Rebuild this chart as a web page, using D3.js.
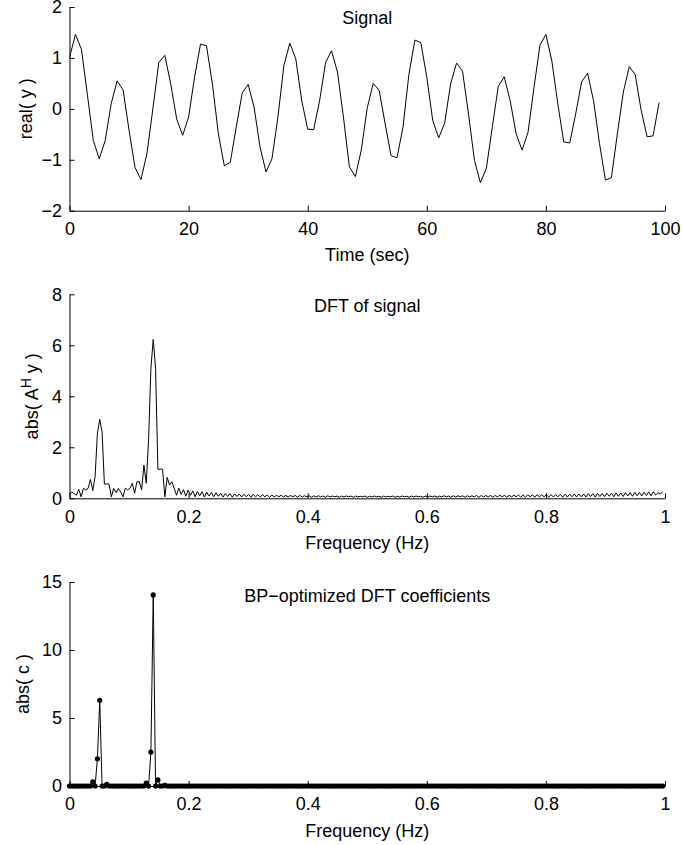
<!DOCTYPE html>
<html>
<head>
    <meta charset="UTF-8">
    <title>Signal / DFT / BP coefficients</title>
    <style>
        body {
            margin: 0;
            background-color: #ffffff;
        }
        svg text {
            font-family: "Liberation Sans", Arial, Helvetica, sans-serif;
            font-size: 18px;
            fill: #000;
        }
    </style>
    <script src="https://cdn.jsdelivr.net/npm/d3@7"></script>
</head>
<body>
    <script>
        // values

        // top panel: real part of the signal, one sample per second
        const timeSec = d3.range(0, 100);
        const signalReal = [
            1.01, 1.46, 1.17, 0.28, -0.62, -0.98, -0.62, 0.10, 0.55, 0.37,
            -0.42, -1.15, -1.39, -0.88, 0.00, 0.91, 1.05, 0.49, -0.20, -0.52,
            -0.16, 0.62, 1.27, 1.24, 0.49, -0.49, -1.12, -1.05, -0.36, 0.31,
            0.48, 0.03, -0.75, -1.24, -0.98, -0.16, 0.85, 1.29, 0.98, 0.16,
            -0.40, -0.41, 0.16, 0.91, 1.14, 0.72, -0.16, -1.14, -1.33, -0.81,
            0.02, 0.50, 0.36, -0.29, -0.92, -0.96, -0.36, 0.68, 1.35, 1.30,
            0.62, -0.23, -0.57, -0.28, 0.49, 0.90, 0.74, -0.10, -1.01, -1.45,
            -1.17, -0.36, 0.44, 0.63, 0.16, -0.49, -0.81, -0.46, 0.42, 1.25,
            1.46, 0.94, 0.10, -0.65, -0.67, -0.10, 0.53, 0.70, 0.16, -0.68,
            -1.40, -1.35, -0.49, 0.33, 0.83, 0.67, -0.03, -0.55, -0.53, 0.12
        ];

        // frequency grid of the dictionary (256 bins over 0..1 Hz)
        const freqHz = d3.range(0, 256).map(k => k / 256);

        // middle panel: abs(A^H y)
        const dftAbs = [
            0.19, 0.24, 0.19, 0.12, 0.35, 0.06, 0.39, 0.33, 0.39, 0.74, 0.30, 0.85, 2.55, 3.10, 2.60, 0.56,
            0.56, 0.56, 0.06, 0.39, 0.22, 0.39, 0.25, 0.06, 0.40, 0.33, 0.39, 0.59, 0.20, 0.65, 0.65, 0.33,
            1.30, 0.59, 2.28, 5.10, 6.23, 5.10, 1.14, 1.14, 1.14, 0.06, 0.82, 0.52, 0.65, 0.39, 0.12, 0.40,
            0.15, 0.34, 0.08, 0.32, 0.12, 0.29, 0.06, 0.27, 0.10, 0.26, 0.05, 0.24, 0.09, 0.23, 0.06, 0.22,
            0.08, 0.20, 0.05, 0.19, 0.07, 0.18, 0.04, 0.17, 0.07, 0.17, 0.05, 0.16, 0.06, 0.15, 0.04, 0.15,
            0.06, 0.14, 0.05, 0.14, 0.06, 0.13, 0.04, 0.13, 0.05, 0.12, 0.06, 0.12, 0.04, 0.12, 0.05, 0.11,
            0.06, 0.11, 0.04, 0.11, 0.05, 0.10, 0.06, 0.10, 0.04, 0.10, 0.05, 0.10, 0.06, 0.09, 0.04, 0.10,
            0.05, 0.09, 0.06, 0.09, 0.04, 0.09, 0.05, 0.09, 0.06, 0.09, 0.04, 0.09, 0.05, 0.08, 0.06, 0.09,
            0.04, 0.08, 0.05, 0.09, 0.06, 0.08, 0.04, 0.09, 0.05, 0.08, 0.06, 0.09, 0.04, 0.08, 0.05, 0.09,
            0.06, 0.08, 0.04, 0.09, 0.05, 0.09, 0.06, 0.08, 0.04, 0.09, 0.05, 0.09, 0.06, 0.09, 0.04, 0.09,
            0.05, 0.10, 0.06, 0.09, 0.04, 0.10, 0.05, 0.10, 0.06, 0.10, 0.04, 0.10, 0.05, 0.10, 0.06, 0.11,
            0.04, 0.11, 0.05, 0.11, 0.06, 0.11, 0.04, 0.11, 0.05, 0.12, 0.06, 0.12, 0.04, 0.12, 0.05, 0.12,
            0.06, 0.13, 0.04, 0.13, 0.05, 0.13, 0.06, 0.14, 0.04, 0.14, 0.05, 0.14, 0.06, 0.15, 0.04, 0.15,
            0.05, 0.15, 0.06, 0.16, 0.04, 0.16, 0.05, 0.16, 0.06, 0.17, 0.05, 0.17, 0.06, 0.17, 0.05, 0.18,
            0.07, 0.18, 0.05, 0.19, 0.07, 0.19, 0.06, 0.20, 0.08, 0.20, 0.06, 0.21, 0.08, 0.21, 0.07, 0.22,
            0.09, 0.22, 0.08, 0.23, 0.10, 0.23, 0.09, 0.24, 0.11, 0.25, 0.10, 0.26, 0.13, 0.22, 0.16, 0.27
        ];

        // bottom panel: abs(c), basis pursuit coefficients
        const bpAbs = [
            0, 0, 0, 0, 0, 0, 0, 0, 0, 0, 0.30, 0, 2.00, 6.30, 0, 0,
            0.12, 0, 0, 0, 0, 0, 0, 0, 0, 0, 0, 0, 0, 0, 0, 0,
            0, 0.22, 0, 2.50, 14.05, 0, 0.45, 0, 0, 0.05, 0, 0, 0, 0, 0, 0,
            0, 0, 0, 0, 0, 0, 0, 0, 0, 0, 0, 0, 0, 0, 0, 0,
            0, 0, 0, 0, 0, 0, 0, 0, 0, 0, 0, 0, 0, 0, 0, 0,
            0, 0, 0, 0, 0, 0, 0, 0, 0, 0, 0, 0, 0, 0, 0, 0,
            0, 0, 0, 0, 0, 0, 0, 0, 0, 0, 0, 0, 0, 0, 0, 0,
            0, 0, 0, 0, 0, 0, 0, 0, 0, 0, 0, 0, 0, 0, 0, 0,
            0, 0, 0, 0, 0, 0, 0, 0, 0, 0, 0, 0, 0, 0, 0, 0,
            0, 0, 0, 0, 0, 0, 0, 0, 0, 0, 0, 0, 0, 0, 0, 0,
            0, 0, 0, 0, 0, 0, 0, 0, 0, 0, 0, 0, 0, 0, 0, 0,
            0, 0, 0, 0, 0, 0, 0, 0, 0, 0, 0, 0, 0, 0, 0, 0,
            0, 0, 0, 0, 0, 0, 0, 0, 0, 0, 0, 0, 0, 0, 0, 0,
            0, 0, 0, 0, 0, 0, 0, 0, 0, 0, 0, 0, 0, 0, 0, 0,
            0, 0, 0, 0, 0, 0, 0, 0, 0, 0, 0, 0, 0, 0, 0, 0,
            0, 0, 0, 0, 0, 0, 0, 0, 0, 0, 0, 0, 0, 0, 0, 0
        ];

        // tick values
        const timeTicks = [0, 20, 40, 60, 80, 100];
        const signalTicks = [-2, -1, 0, 1, 2];
        const freqTicks = [0, 0.2, 0.4, 0.6, 0.8, 1];
        const dftTicks = [0, 2, 4, 6, 8];
        const bpTicks = [0, 5, 10, 15];

        const width = 683;
        const height = 845;
        const left = 69.5, right = 665;

        const svg = d3.select('body')
            .append('svg')
            .attr('width', width)
            .attr('height', height);

        const fmt = d => d < 0 ? '\u2212' + Math.abs(d) : String(d);

        // draws one panel's axes and labels, returns the scales
        function panel(opt) {
            const x = d3.scaleLinear().domain(opt.xDomain).range([left, right]);
            const y = d3.scaleLinear().domain(opt.yDomain).range([opt.bottom, opt.top]);

            svg.append('g')
                .attr('transform', `translate(0,${opt.bottom})`)
                .call(d3.axisBottom(x).tickValues(opt.xTicks).tickFormat(fmt)
                    .tickSizeInner(-5).tickSizeOuter(0).tickPadding(11.5))
                .call(g => g.selectAll('text').style('font-size', '18px'));

            svg.append('g')
                .attr('transform', `translate(${left},0)`)
                .call(d3.axisLeft(y).tickValues(opt.yTicks).tickFormat(fmt)
                    .tickSizeInner(-5).tickSizeOuter(0).tickPadding(7.5))
                .call(g => g.selectAll('text').style('font-size', '18px'));

            svg.append('text')
                .attr('x', (left + right) / 2)
                .attr('y', opt.top + opt.titleDy)
                .attr('text-anchor', 'middle')
                .text(opt.title);

            svg.append('text')
                .attr('x', (left + right) / 2)
                .attr('y', opt.bottom + 50.5)
                .attr('text-anchor', 'middle')
                .text(opt.xLabel);

            const yl = svg.append('text')
                .attr('text-anchor', 'middle')
                .attr('transform', `translate(${opt.yLabelX},${(opt.top + opt.bottom) / 2}) rotate(-90)`);
            opt.yLabel(yl);

            return {x, y};
        }

        // top: signal
        const p1 = panel({
            top: 7, bottom: 210.7, xDomain: [0, 100], yDomain: [-2, 2],
            xTicks: timeTicks, yTicks: signalTicks, titleDy: 17,
            title: 'Signal', xLabel: 'Time (sec)', yLabelX: 31.5,
            yLabel: t => t.text('real( y )')
        });
        svg.append('path')
            .datum(signalReal)
            .attr('fill', 'none')
            .attr('stroke', '#000')
            .attr('stroke-width', 1)
            .attr('d', d3.line().x((d, i) => p1.x(timeSec[i])).y(d => p1.y(d)));

        // middle: DFT
        const p2 = panel({
            top: 294.3, bottom: 498.3, xDomain: [0, 1], yDomain: [0, 8],
            xTicks: freqTicks, yTicks: dftTicks, titleDy: 18,
            title: 'DFT of signal', xLabel: 'Frequency (Hz)', yLabelX: 38,
            yLabel: t => {
                t.append('tspan').text('abs( A');
                t.append('tspan').attr('dy', -7).style('font-size', '14px').text('H');
                t.append('tspan').attr('dy', 7).text(' y )');
            }
        });
        svg.append('path')
            .datum(dftAbs)
            .attr('fill', 'none')
            .attr('stroke', '#000')
            .attr('stroke-width', 1)
            .attr('d', d3.line().x((d, i) => p2.x(freqHz[i])).y(d => p2.y(d)));

        // bottom: BP coefficients
        const p3 = panel({
            top: 582, bottom: 786, xDomain: [0, 1], yDomain: [0, 15],
            xTicks: freqTicks, yTicks: bpTicks, titleDy: 20,
            title: 'BP\u2212optimized DFT coefficients', xLabel: 'Frequency (Hz)', yLabelX: 29,
            yLabel: t => t.text('abs( c )')
        });
        svg.append('path')
            .datum(bpAbs)
            .attr('fill', 'none')
            .attr('stroke', '#000')
            .attr('stroke-width', 1)
            .attr('d', d3.line().x((d, i) => p3.x(freqHz[i])).y(d => p3.y(d)));
        svg.append('g')
            .selectAll('circle')
            .data(bpAbs)
            .join('circle')
            .attr('cx', (d, i) => p3.x(freqHz[i]))
            .attr('cy', d => p3.y(d))
            .attr('r', 2.6)
            .attr('fill', '#000');
    </script>
</body>
</html>
